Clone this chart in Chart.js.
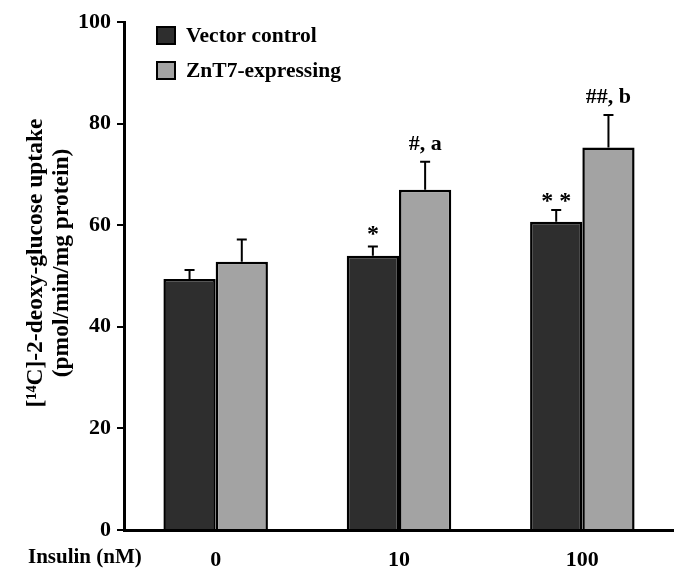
<!DOCTYPE html>
<html>
<head>
<meta charset="utf-8">
<script src="https://cdn.jsdelivr.net/npm/chart.js@4.4.0/dist/chart.umd.min.js"></script>
<style>
html,body{margin:0;padding:0;background:#fff;}
#wrap{width:674px;height:569px;position:relative;}
</style>
</head>
<body>
<div id="wrap"><canvas id="c"></canvas></div>
<script>
const categories = ['0', '10', '100'];
const seriesNames = ['Vector control', 'ZnT7-expressing'];
const vectorMeans = [49.4, 54.0, 60.7];
const vectorErr = [1.8, 1.8, 2.3];
const zntMeans = [52.8, 67.0, 75.3];
const zntErr = [4.4, 5.5, 6.4];
const vectorMarks = ['', '*', '* *'];
const zntMarks = ['', '#, a', '##, b'];
const yTickValues = [0, 20, 40, 60, 80, 100];
const xAxisLabel = 'Insulin (nM)';
const yTitleLines = ['[\u00B9\u2074C]-2-deoxy-glucose uptake', '(pmol/min/mg protein)'];

const FONT = '"Liberation Serif", "Times New Roman", serif';
const DARK = '#2e2e2e';
const LIGHT = '#a3a3a3';

const errorBars = {
  id: 'errorBars',
  afterDatasetsDraw(chart) {
    const ctx = chart.ctx;
    const y = chart.scales.y;
    ctx.save();
    chart.data.datasets.forEach((ds, di) => {
      const meta = chart.getDatasetMeta(di);
      meta.data.forEach((bar, i) => {
        const top = y.getPixelForValue(ds.data[i] + ds.errors[i]);
        const base = y.getPixelForValue(ds.data[i]);
        ctx.strokeStyle = '#000';
        ctx.lineWidth = 2;
        ctx.beginPath();
        ctx.moveTo(bar.x, base);
        ctx.lineTo(bar.x, top);
        ctx.moveTo(bar.x - 5, top);
        ctx.lineTo(bar.x + 5, top);
        ctx.stroke();
        const mark = ds.marks[i];
        if (mark) {
          ctx.fillStyle = '#000';
          ctx.textAlign = 'center';
          ctx.textBaseline = 'alphabetic';
          if (mark.indexOf('*') >= 0) {
            ctx.font = 'bold 24px ' + FONT;
            ctx.fillText(mark, bar.x, top - (mark.length > 1 ? 2 : 6));
          } else {
            ctx.font = 'bold 22px ' + FONT;
            ctx.fillText(mark, bar.x, top - 12);
          }
        }
      });
    });
    ctx.restore();
  }
};

const extraText = {
  id: 'extraText',
  afterDraw(chart) {
    const ctx = chart.ctx;
    ctx.save();
    // legend
    chart.data.datasets.forEach((ds, i) => {
      const sy = 27 + i * 35;
      ctx.fillStyle = ds.backgroundColor;
      ctx.fillRect(157, sy, 18, 17);
      ctx.strokeStyle = '#000';
      ctx.lineWidth = 2;
      ctx.strokeRect(157, sy, 18, 17);
      ctx.fillStyle = '#000';
      ctx.font = 'bold 21.5px ' + FONT;
      ctx.textAlign = 'left';
      ctx.textBaseline = 'middle';
      ctx.fillText(ds.label, 186, sy + 9);
    });
    // x axis label
    ctx.font = 'bold 21px ' + FONT;
    ctx.textAlign = 'left';
    ctx.textBaseline = 'middle';
    ctx.fillText(xAxisLabel, 28, 558);
    // y title
    ctx.translate(0, 263);
    ctx.rotate(-Math.PI / 2);
    ctx.font = 'bold 23.5px ' + FONT;
    ctx.textAlign = 'center';
    ctx.textBaseline = 'middle';
    ctx.fillText(yTitleLines[0], 0, 36);
    ctx.fillText(yTitleLines[1], 0, 62);
    ctx.restore();
  }
};

new Chart(document.getElementById('c'), {
  type: 'bar',
  data: {
    labels: categories,
    datasets: [
      { label: seriesNames[0], data: vectorMeans, errors: vectorErr, marks: vectorMarks,
        backgroundColor: DARK, borderColor: '#000', borderWidth: 2.5 },
      { label: seriesNames[1], data: zntMeans, errors: zntErr, marks: zntMarks,
        backgroundColor: LIGHT, borderColor: '#000', borderWidth: 2.5 }
    ]
  },
  options: {
    responsive: true,
    maintainAspectRatio: false,
    animation: false,
    devicePixelRatio: 1,
    layout: { padding: { top: 22, right: 0, bottom: 0, left: 0 } },
    datasets: { bar: { categoryPercentage: 0.57, barPercentage: 1.0 } },
    plugins: { legend: { display: false }, tooltip: { enabled: false } },
    scales: {
      x: {
        grid: { display: false },
        border: { display: true, color: '#000', width: 3 },
        ticks: { color: '#000', font: { family: FONT, size: 22, weight: 'bold' }, padding: 9 },
        afterFit(s) { s.height = 39; }
      },
      y: {
        min: 0, max: 100,
        afterBuildTicks(s) { s.ticks = yTickValues.map(v => ({ value: v })); },
        grid: { display: true, drawOnChartArea: false, drawTicks: true, tickLength: 7, color: '#000', lineWidth: 2 },
        border: { display: true, color: '#000', width: 3 },
        ticks: { color: '#000', font: { family: FONT, size: 22, weight: 'bold' }, padding: 6 },
        afterFit(s) { s.width = 124; }
      }
    }
  },
  plugins: [errorBars, extraText]
});
</script>
</body>
</html>
